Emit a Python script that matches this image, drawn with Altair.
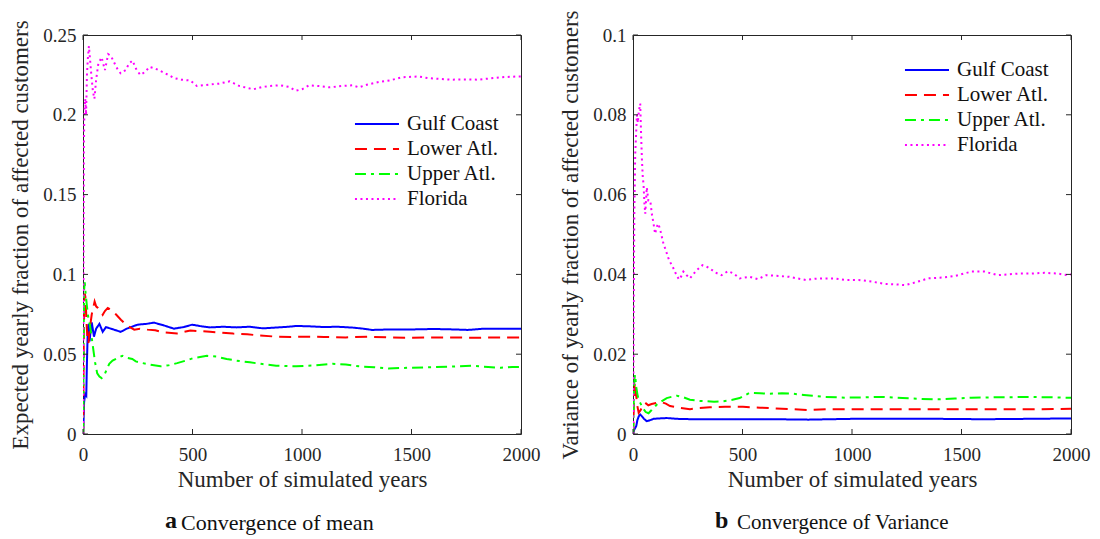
import altair as alt
import pandas as pd

FONT = "Liberation Serif"
AX = "#262626"
SERIES = ["Gulf Coast", "Lower Atl.", "Upper Atl.", "Florida"]
COLORS = ["#0000ff", "#ff0000", "#00ff00", "#ff00ff"]
DASHES = [[1, 0], [12, 7], [11, 5, 3, 5], [2, 3.5]]
X_TICKS = [0, 500, 1000, 1500, 2000]
Y_TICKS_MEAN = [0, 0.05, 0.1, 0.15, 0.2, 0.25]
Y_TICKS_VAR = [0, 0.02, 0.04, 0.06, 0.08, 0.1]

# ---- Panel a: convergence of mean ----
gulf_mean_x = [1, 5, 10, 15, 18, 22, 26, 30, 35, 40, 50, 60, 75, 90, 105, 127, 150, 172, 200, 249, 290, 324, 370, 415, 460, 498, 540, 580, 640, 701, 760, 822, 882, 940, 973, 1030, 1100, 1160, 1229, 1280, 1320, 1400, 1500, 1600, 1700, 1757, 1833, 1900, 1983, 2000]
gulf_mean_y = [0.0, 0.02, 0.025, 0.024, 0.045, 0.066, 0.069, 0.058, 0.065, 0.07, 0.061, 0.066, 0.069, 0.064, 0.067, 0.066, 0.065, 0.064, 0.066, 0.0685, 0.069, 0.0698, 0.068, 0.066, 0.067, 0.0685, 0.0675, 0.0668, 0.0672, 0.0668, 0.0672, 0.0662, 0.0667, 0.0672, 0.0677, 0.0675, 0.067, 0.0672, 0.0667, 0.066, 0.0652, 0.0655, 0.0655, 0.0658, 0.0655, 0.0652, 0.066, 0.066, 0.066, 0.066]

lower_mean_x = [1, 3, 5, 8, 12, 16, 20, 25, 30, 40, 53, 60, 68, 80, 90, 100, 113, 125, 136, 150, 173, 200, 234, 260, 294, 330, 370, 430, 490, 530, 580, 630, 686, 750, 806, 882, 950, 1000, 1100, 1200, 1300, 1400, 1500, 1600, 1700, 1800, 1900, 2000]
lower_mean_y = [0.0, 0.05, 0.075, 0.088, 0.085, 0.07, 0.06, 0.057, 0.065, 0.075, 0.083, 0.08, 0.079, 0.077, 0.0747, 0.077, 0.079, 0.078, 0.0767, 0.075, 0.0716, 0.068, 0.0654, 0.066, 0.0654, 0.065, 0.0636, 0.063, 0.0648, 0.0645, 0.064, 0.0635, 0.0629, 0.0625, 0.0617, 0.061, 0.0608, 0.061, 0.0608, 0.0605, 0.061, 0.0605, 0.0603, 0.0605, 0.0605, 0.0603, 0.0605, 0.0605]

upper_mean_x = [1, 3, 5, 8, 12, 18, 25, 32, 38, 45, 55, 65, 75, 85, 98, 110, 120, 135, 158, 180, 204, 225, 241, 270, 309, 354, 390, 430, 470, 505, 566, 610, 656, 700, 762, 820, 882, 940, 973, 1060, 1139, 1200, 1260, 1330, 1395, 1480, 1576, 1680, 1773, 1850, 1908, 1960, 2000]
upper_mean_y = [0.0, 0.06, 0.09, 0.095, 0.088, 0.08, 0.072, 0.068, 0.062, 0.055, 0.045, 0.038, 0.036, 0.035, 0.037, 0.041, 0.044, 0.046, 0.0476, 0.049, 0.0476, 0.047, 0.0455, 0.0445, 0.0434, 0.0424, 0.043, 0.0444, 0.046, 0.0476, 0.049, 0.0485, 0.047, 0.046, 0.0449, 0.0438, 0.0428, 0.0425, 0.0424, 0.043, 0.044, 0.0435, 0.0424, 0.0418, 0.041, 0.0415, 0.0418, 0.0422, 0.0428, 0.042, 0.0415, 0.042, 0.042]

florida_mean_x = [1, 2, 4, 6, 10, 14, 18, 22, 27, 32, 38, 45, 52, 60, 70, 85, 100, 115, 127, 145, 160, 172, 195, 210, 226, 245, 262, 285, 303, 330, 360, 390, 416, 450, 490, 520, 550, 579, 620, 670, 715, 778, 820, 851, 900, 940, 973, 1000, 1033, 1080, 1124, 1180, 1229, 1260, 1300, 1350, 1400, 1456, 1531, 1576, 1630, 1682, 1750, 1802, 1860, 1908, 1976, 2000]
florida_mean_y = [0.0, 0.09, 0.18, 0.2, 0.21, 0.2, 0.225, 0.235, 0.243, 0.235, 0.225, 0.215, 0.21, 0.222, 0.232, 0.236, 0.228, 0.238, 0.237, 0.232, 0.228, 0.226, 0.228, 0.232, 0.234, 0.228, 0.225, 0.227, 0.23, 0.229, 0.227, 0.225, 0.223, 0.222, 0.2215, 0.218, 0.2185, 0.219, 0.2195, 0.221, 0.218, 0.216, 0.2175, 0.218, 0.2185, 0.2175, 0.2151, 0.216, 0.2185, 0.218, 0.2172, 0.218, 0.2185, 0.2172, 0.219, 0.2205, 0.2215, 0.2235, 0.224, 0.223, 0.2225, 0.222, 0.2222, 0.222, 0.2228, 0.2235, 0.224, 0.224]

# ---- Panel b: convergence of variance ----
gulf_var_x = [1, 5, 10, 15, 20, 27, 33, 40, 50, 63, 75, 94, 120, 154, 200, 275, 400, 500, 650, 800, 900, 1000, 1200, 1400, 1600, 1800, 2000]
gulf_var_y = [0.0, 0.001, 0.0015, 0.002, 0.0035, 0.0045, 0.0049, 0.0045, 0.0038, 0.0032, 0.0034, 0.0038, 0.0039, 0.004, 0.0038, 0.0037, 0.0037, 0.0037, 0.0037, 0.0036, 0.0037, 0.0038, 0.0038, 0.0038, 0.0037, 0.0038, 0.0039]

lower_var_x = [1, 4, 7, 10, 14, 20, 26, 35, 45, 56, 70, 85, 109, 130, 150, 169, 210, 260, 300, 350, 420, 502, 580, 653, 730, 804, 880, 1000, 1200, 1400, 1600, 1800, 2000]
lower_var_y = [0.0, 0.008, 0.012, 0.013, 0.01, 0.007, 0.0053, 0.006, 0.0072, 0.0078, 0.0072, 0.0075, 0.0078, 0.008, 0.0076, 0.007, 0.0066, 0.0062, 0.0065, 0.0067, 0.0068, 0.0068, 0.0066, 0.0064, 0.0062, 0.006, 0.0062, 0.0062, 0.0062, 0.0062, 0.0062, 0.0062, 0.0063]

upper_var_x = [1, 4, 7, 10, 14, 20, 26, 33, 45, 58, 71, 85, 109, 130, 154, 175, 200, 230, 260, 300, 336, 370, 411, 450, 487, 532, 580, 623, 680, 729, 780, 820, 880, 971, 1060, 1137, 1230, 1318, 1393, 1470, 1545, 1650, 1720, 1802, 1900, 1983, 2000]
upper_var_y = [0.0, 0.01, 0.014, 0.0149, 0.012, 0.01, 0.0085, 0.0078, 0.0065, 0.0055, 0.0052, 0.006, 0.0074, 0.0082, 0.009, 0.0093, 0.0096, 0.0092, 0.0086, 0.0083, 0.0082, 0.0081, 0.0082, 0.0085, 0.009, 0.0103, 0.0102, 0.0101, 0.0102, 0.0101, 0.0098, 0.0096, 0.0093, 0.0091, 0.0092, 0.0093, 0.009, 0.0088, 0.0087, 0.0089, 0.0091, 0.0092, 0.0092, 0.0093, 0.0092, 0.0091, 0.0091]

florida_var_x = [1, 3, 6, 10, 14, 18, 22, 27, 33, 37, 41, 45, 48, 52, 56, 63, 70, 79, 86, 93, 101, 109, 116, 125, 139, 150, 162, 175, 185, 197, 210, 220, 230, 245, 260, 275, 290, 317, 335, 351, 375, 404, 434, 460, 487, 532, 570, 608, 640, 668, 713, 750, 789, 830, 865, 920, 971, 1031, 1090, 1152, 1200, 1243, 1290, 1348, 1410, 1469, 1545, 1605, 1666, 1710, 1757, 1820, 1878, 1940, 1983, 2000]
florida_var_y = [0.0, 0.03, 0.055, 0.07, 0.075, 0.08, 0.078, 0.081, 0.0828, 0.075, 0.0685, 0.064, 0.0627, 0.058, 0.0552, 0.0618, 0.0585, 0.0585, 0.0552, 0.053, 0.0502, 0.052, 0.0527, 0.051, 0.0477, 0.046, 0.044, 0.0425, 0.0415, 0.04, 0.0387, 0.0395, 0.0407, 0.0398, 0.039, 0.04, 0.041, 0.0423, 0.042, 0.0415, 0.0405, 0.0398, 0.0408, 0.0402, 0.039, 0.0394, 0.0388, 0.0398, 0.0397, 0.0396, 0.0394, 0.039, 0.0386, 0.0389, 0.039, 0.039, 0.0386, 0.0386, 0.0382, 0.0376, 0.0375, 0.0373, 0.038, 0.039, 0.0392, 0.0396, 0.0407, 0.0407, 0.0398, 0.04, 0.0402, 0.0402, 0.0404, 0.0402, 0.0398, 0.04]

CAPTION_LETTERS = ["a", "b"]
CAPTION_TEXTS = ["Convergence of mean", "Convergence of Variance"]

W, H = 438, 399
LEGEND_PATH = "M-2.05,0H2.05"   # long horizontal stroke for legend line samples


def make_df(pairs):
    rows = []
    for name, (xs, ys) in zip(SERIES, pairs):
        for x, y in zip(xs, ys):
            rows.append({"years": x, "value": y, "series": name})
    return pd.DataFrame(rows)


def panel(df, ymax, yticks, ytitle, legend_y, letter, text, text_dx, text_size):
    xsc = alt.Scale(domain=[0, 2000], nice=False, zero=False)
    ysc = alt.Scale(domain=[0, ymax], nice=False)
    xaxis = alt.Axis(values=X_TICKS, format="d", title="Number of simulated years",
                     labelPadding=11, titlePadding=4, labelFont=FONT, titleFont=FONT)
    yaxis = alt.Axis(values=yticks, format="~g", title=ytitle,
                     labelPadding=7, titlePadding=10, labelFont=FONT, titleFont=FONT)
    xenc = alt.X("years:Q", scale=xsc, axis=xaxis)
    yenc = alt.Y("value:Q", scale=ysc, axis=yaxis)
    legend = alt.Legend(orient="none", legendX=282, legendY=legend_y, title=None, labelFont=FONT)
    lines = alt.Chart(df).mark_line(strokeWidth=2, clip=True).encode(
        x=xenc, y=yenc,
        color=alt.Color("series:N", scale=alt.Scale(domain=SERIES, range=COLORS), legend=legend),
        strokeDash=alt.StrokeDash("series:N", scale=alt.Scale(domain=SERIES, range=DASHES), legend=legend),
    )
    xt = pd.DataFrame({"years": X_TICKS})
    yt = pd.DataFrame({"value": yticks})
    tb = alt.Chart(xt).mark_rule(color=AX, strokeWidth=1).encode(x=xenc, y=alt.value(H), y2=alt.value(H - 5))
    tt = alt.Chart(xt).mark_rule(color=AX, strokeWidth=1).encode(x=xenc, y=alt.value(0), y2=alt.value(5))
    tl = alt.Chart(yt).mark_rule(color=AX, strokeWidth=1).encode(y=yenc, x=alt.value(0), x2=alt.value(5))
    tr = alt.Chart(yt).mark_rule(color=AX, strokeWidth=1).encode(y=yenc, x=alt.value(W), x2=alt.value(W - 5))
    cap_df = pd.DataFrame({"letter": [letter], "text": [text]})
    cl = alt.Chart(cap_df).mark_text(font=FONT, fontSize=24, fontWeight="bold", align="left",
                                     baseline="middle", color="#111").encode(
        text="letter:N", x=alt.value(82), y=alt.value(H + 87))
    ct = alt.Chart(cap_df).mark_text(font=FONT, fontSize=text_size, align="left",
                                     baseline="middle", color="#111").encode(
        text="text:N", x=alt.value(82 + text_dx), y=alt.value(H + 89))
    return alt.layer(lines, tb, tt, tl, tr, cl, ct).properties(width=W, height=H)


df_mean = make_df([(gulf_mean_x, gulf_mean_y), (lower_mean_x, lower_mean_y),
                   (upper_mean_x, upper_mean_y), (florida_mean_x, florida_mean_y)])
df_var = make_df([(gulf_var_x, gulf_var_y), (lower_var_x, lower_var_y),
                  (upper_var_x, upper_var_y), (florida_var_x, florida_var_y)])

left = panel(df_mean, 0.25, Y_TICKS_MEAN, "Expected yearly fraction of affected customers", 77,
             CAPTION_LETTERS[0], CAPTION_TEXTS[0], 16, 22)
right = panel(df_var, 0.1, Y_TICKS_VAR, "Variance of yearly fraction of affected customers", 23,
              CAPTION_LETTERS[1], CAPTION_TEXTS[1], 22, 21)

chart = alt.hconcat(left, right, spacing=18).resolve_scale(
    color="independent", strokeDash="independent"
).configure(font=FONT).configure_view(stroke=AX, strokeWidth=1).configure_axis(
    grid=False, ticks=False, domain=False, labelFont=FONT, titleFont=FONT,
    labelFontSize=19, titleFontSize=23, labelColor=AX, titleColor=AX,
    titleFontWeight="normal", labelFlush=False
).configure_legend(
    labelFont=FONT, labelFontSize=21, labelColor="#111", symbolType=LEGEND_PATH,
    symbolSize=462, symbolStrokeWidth=2, rowPadding=3, labelOffset=18, padding=0
).properties(padding={"left": 1, "top": 1, "right": 0, "bottom": 0}, background="white")

chart.save("out.html", embed_options={"renderer": "svg", "actions": False})
